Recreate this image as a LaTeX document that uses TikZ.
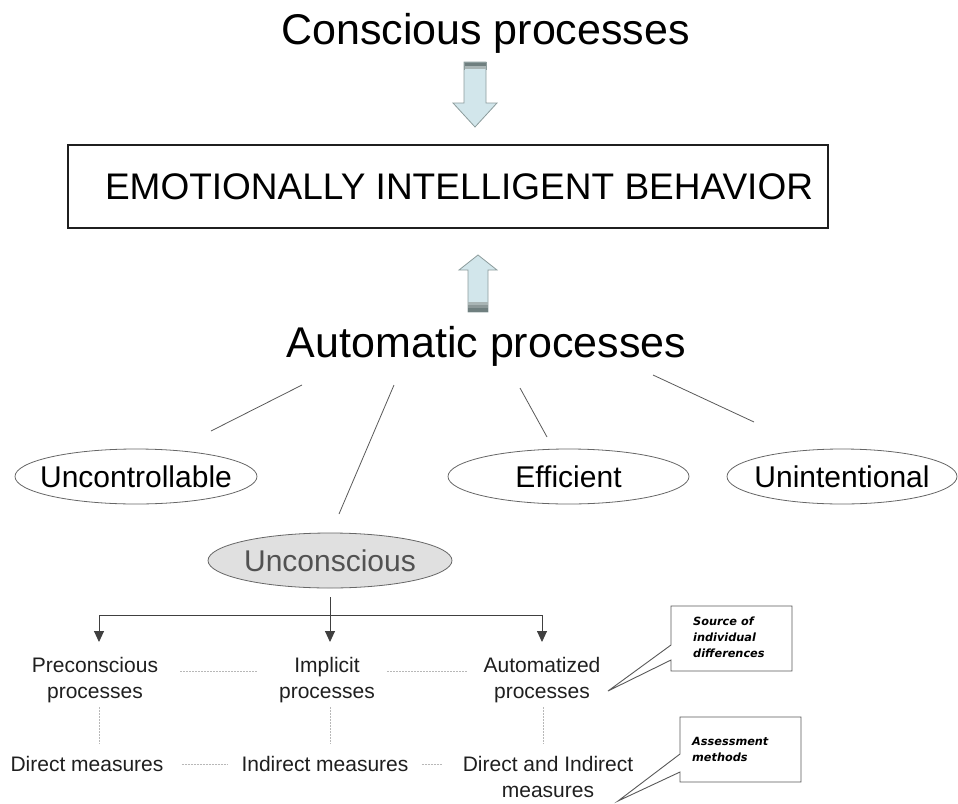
\documentclass[tikz,border=0pt]{standalone}
\usepackage{fontspec}
\setmainfont{Liberation Sans}
\newfontfamily\callfont{DejaVu Sans}
\usetikzlibrary{shapes.geometric,arrows.meta}
\definecolor{arrowfill}{HTML}{D2E6EB}
\definecolor{arrowline}{HTML}{8C9C9C}
\definecolor{stripedark}{HTML}{6F7F7F}
\definecolor{stripemid}{HTML}{A9B5B5}
\begin{document}
\begin{tikzpicture}[x=1pt,y=-1pt,
  title/.style={font=\fontsize{43}{48}\selectfont, inner sep=0pt},
  oval/.style={ellipse, draw=black!60, line width=0.8pt, minimum height=55pt, inner sep=0pt, font=\fontsize{30}{34}\selectfont},
  lbl/.style={font=\fontsize{21}{26}\selectfont, align=center, inner sep=0pt, text=black!88},
  spoke/.style={draw=black!65, line width=0.8pt},
  dots/.style={draw=black!28, line width=0.8pt, dash pattern=on 2pt off 1pt},
  treeline/.style={draw=black!75, line width=0.9pt},
  treearrow/.style={draw=black!75, line width=0.9pt, -{Triangle[length=11pt,width=10pt]}},
  blockarrow/.style={fill=arrowfill, draw=arrowline, line width=0.8pt},
  callout/.style={draw=black!65, line width=0.9pt, fill=white},
  calltext/.style={font=\callfont\bfseries\itshape\fontsize{11.3}{16}\selectfont, align=left, inner sep=0pt, anchor=north west},
]
\useasboundingbox (0,0) rectangle (958,803);

% titles
\node[title] (cons) at (485.5,33) {Conscious processes};
\node[draw=black!88, line width=1.8pt, minimum width=760pt, minimum height=83pt, inner sep=0pt] (eib) at (448,186.5) {};
\node[font=\fontsize{37}{40}\selectfont, inner sep=0pt] (eibt) at (459,186.5) {EMOTIONALLY INTELLIGENT BEHAVIOR};
\node[title] (auto) at (486.5,346) {Automatic processes};

% down block arrow
\path[blockarrow] (464,62) -- (486,62) -- (486,103) -- (497,103) -- (475,127) -- (453,103) -- (464,103) -- cycle;
\fill[stripedark] (464,62) rectangle (486,65.5);
\fill[stripemid] (464,65.5) rectangle (486,68.5);
\draw[arrowline, line width=0.8pt] (464,62) -- (486,62) -- (486,70) (464,62) -- (464,70);

% up block arrow
\path[blockarrow] (478,255) -- (497,270) -- (488,270) -- (488,312) -- (468,312) -- (468,270) -- (459,270) -- cycle;
\fill[stripemid] (468,302) rectangle (488,305);
\fill[stripedark!80] (468,305) rectangle (488,308);
\fill[stripedark] (468,308) rectangle (488,312);

% ellipses
\node[oval, minimum width=242pt] (unctrl) at (136,476.5) {\makebox[0pt]{Uncontrollable}};
\node[oval, minimum width=241pt] (eff) at (568.5,476.5) {\makebox[0pt]{Efficient}};
\node[oval, minimum width=230pt] (unint) at (842,476.5) {\makebox[0pt]{Unintentional}};
\node[oval, minimum width=244pt, fill=black!12, text=black!68] (uncon) at (330,560.5) {\makebox[0pt]{Unconscious}};

% spokes from Automatic processes
\coordinate (s1a) at (302,385); \coordinate (s1b) at (211,431);
\coordinate (s2a) at (394,385); \coordinate (s2b) at (339,514);
\coordinate (s3a) at (520,388); \coordinate (s3b) at (547,437);
\coordinate (s4a) at (653,375); \coordinate (s4b) at (754,422);
\draw[spoke] (s1a) -- (s1b);
\draw[spoke] (s2a) -- (s2b);
\draw[spoke] (s3a) -- (s3b);
\draw[spoke] (s4a) -- (s4b);

% level-1 labels
\node[lbl] (pre) at (95,680) {Preconscious\\processes};
\node[lbl] (impl) at (327,680) {Implicit\\processes};
\node[lbl] (autz) at (542,680) {Automatized\\processes};

% tree
\coordinate (top) at (330,597);
\coordinate (bl) at (99,615);
\coordinate (bm) at (330,615);
\coordinate (br) at (542,615);
\draw[treeline] (bl) -- (br);
\draw[treearrow] (top) -- (bm |- 0,642);
\draw[treearrow] (bl) -- (bl |- 0,642);
\draw[treearrow] (br) -- (br |- 0,642);

% bottom labels
\node[lbl] (dm) at (87,764) {Direct measures};
\node[lbl] (im) at (325,764) {Indirect measures};
\node[lbl] (dim) at (548,776.5) {Direct and Indirect\\measures};

% dotted links
\draw[dots] (pre.east |- 0,671) ++(22,0) -- (257,671);
\draw[dots] ([xshift=12pt]impl.east |- 0,671) -- (468,671);
\draw[dots] (bl |- 0,707) -- (bl |- 0,744);
\draw[dots] (bm |- 0,707) -- (bm |- 0,744);
\draw[dots] (543,707) -- (543,744);
\draw[dots] ([xshift=18pt]dm.east) -- ([xshift=-14pt]im.west);
\draw[dots] ([xshift=13pt]im.east) -- (442,764);

% callouts
\path[callout] (671,606) -- (792,606) -- (792,671) -- (671,671) -- (671,660) -- (608,691) -- (671,645) -- cycle;
\node[calltext] (c1) at (693,617) {Source of\\individual\\differences};
\path[callout] (680,717) -- (801,717) -- (801,782) -- (680,782) -- (680,772) -- (618,801) -- (680,754) -- cycle;
\node[calltext] (c2) at (692,737) {Assessment\\methods};
\end{tikzpicture}
\end{document}
